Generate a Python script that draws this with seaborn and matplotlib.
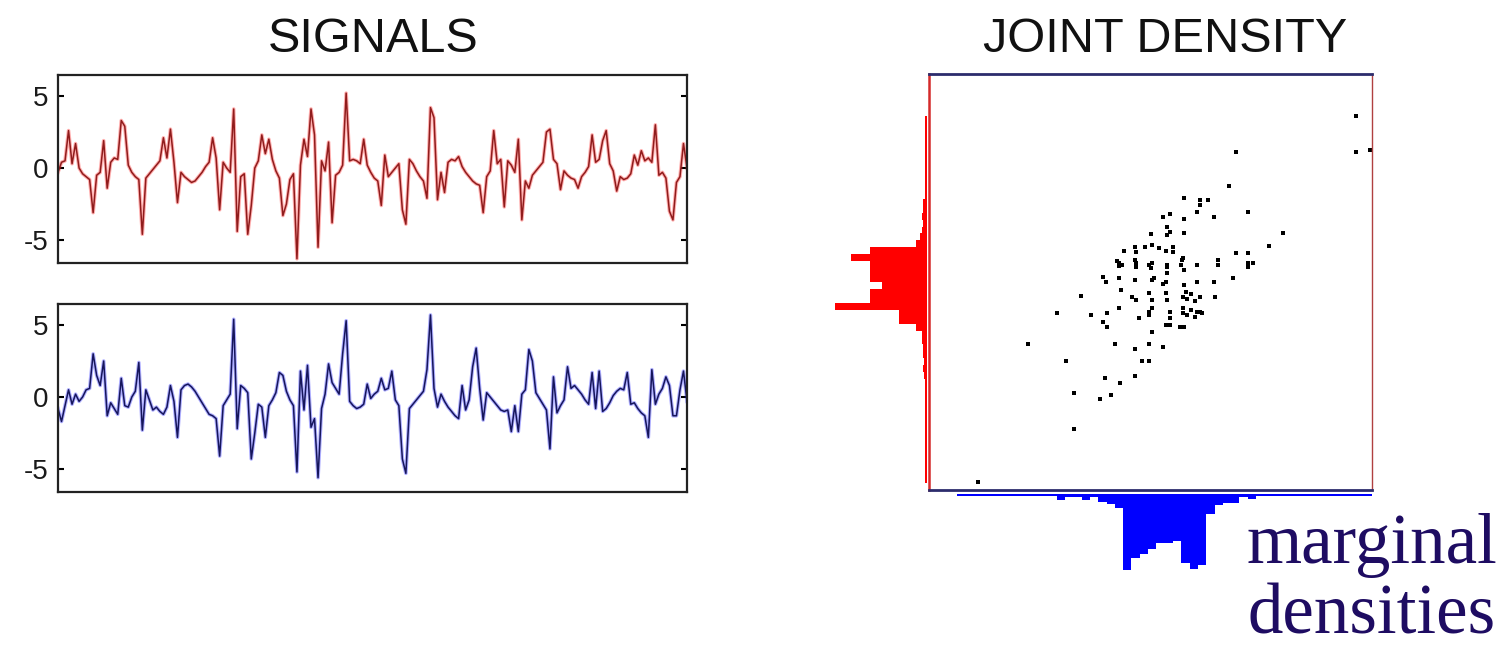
import numpy as np
import pandas as pd
import matplotlib
matplotlib.use("Agg")
import matplotlib.pyplot as plt
import seaborn as sns

# ---------------- data ----------------
signal_red = [
    -0.3, 0.4, 0.5, 2.6, 0.3, 1.7, 0.0, -0.4, -0.6, -0.8,
    -3.1, -0.5, -0.3, 1.9, -1.4, 0.4, 0.7, 0.6, 3.3, 2.9,
    0.2, -0.3, -0.6, -0.8, -4.6, -0.7, -0.4, -0.1, 0.2, 0.5,
    2.1, 0.7, 2.7, 0.4, -2.4, -0.3, -0.6, -0.8, -1.0, -0.9,
    -0.6, -0.3, 0.1, 0.4, 2.1, 0.7, -2.9, 0.4, 0.0, -0.3,
    4.1, -4.4, -0.6, -0.4, -4.6, -2.6, 0.0, 0.5, 2.3, 1.0,
    2.0, 0.6, -0.2, -0.7, -3.3, -2.5, -0.8, -0.4, -6.3, 0.2,
    2.0, 0.8, 4.1, 2.3, -5.5, 0.5, -0.2, 1.8, -3.8, -0.5,
    -0.3, 0.2, 5.2, 0.5, 0.6, 0.5, 0.3, 2.0, 0.2, -0.3,
    -0.7, -0.9, -2.6, 0.9, -0.6, -0.3, 0.0, 0.3, -2.9, -3.9,
    0.6, 0.3, -0.2, -0.6, -0.9, -2.1, 4.2, 3.5, -2.2, -0.3,
    -1.7, 0.4, 0.6, 0.5, 0.8, 0.1, -0.3, -0.6, -0.9, -1.1,
    -1.2, -3.1, -0.6, -0.2, 2.6, 0.3, 0.6, -2.7, 0.5, 0.2,
    -0.3, 2.0, -3.6, -0.9, -1.4, -0.5, -0.2, 0.1, 0.4, 2.5,
    2.7, 0.6, 0.3, -1.5, -0.2, -0.5, -0.7, -0.8, -1.4, -0.6,
    -0.3, 0.1, 2.3, 0.4, 0.6, 1.9, 2.6, 0.3, -0.2, -1.6,
    -0.6, -0.8, -0.7, -0.4, 0.9, 0.2, 1.2, 0.5, 0.7, 0.4,
    3.0, -0.5, -0.3, -0.7, -3.0, -3.6, -1.0, -0.6, 1.7, 0.0,
]

signal_blue = [
    -0.8, -1.7, -0.6, 0.5, -0.5, 0.2, -0.3, 0.0, 0.5, 0.6,
    3.0, 1.5, 0.8, 2.5, -1.3, -0.4, -0.8, -1.2, 1.3, -0.6,
    -0.7, 0.0, 0.4, 2.4, -2.3, 0.5, -0.2, -0.9, -0.7, -1.0,
    -1.2, -0.7, 0.8, -0.3, -2.8, 0.5, 0.8, 0.9, 0.7, 0.4,
    0.0, -0.4, -0.8, -1.2, -1.3, -1.5, -4.1, -0.6, -0.2, 0.2,
    5.4, -2.2, 0.8, 0.6, 0.3, -4.3, -2.5, -0.5, -0.7, -2.8,
    -0.6, -0.2, 0.3, 1.7, 1.5, 0.4, -0.2, -0.6, -5.2, 1.8,
    -0.9, 2.2, -2.1, -1.5, -5.6, -0.8, 0.2, 2.3, 1.0, 0.6,
    0.2, 3.0, 5.3, -0.3, -0.6, -0.8, -0.7, -0.5, 0.9, -0.1,
    0.2, 0.4, 1.3, 0.5, 0.6, 1.8, -0.2, -0.6, -4.3, -5.3,
    -0.8, -0.5, -0.2, 0.1, 0.4, 1.9, 5.7, 0.6, -0.7, 0.2,
    -0.3, -0.7, -1.0, -1.3, -1.5, 0.8, -0.9, -0.2, 2.1, 3.4,
    0.6, -1.6, 0.3, 0.0, -0.3, -0.6, -0.9, -1.0, -0.9, -2.4,
    -0.6, -2.4, 0.2, 0.5, 3.3, 2.5, 0.3, -0.1, -0.5, -0.9,
    -3.6, 1.4, -1.1, -0.6, -0.2, 2.1, 0.6, 0.8, 0.5, 0.2,
    -0.2, -0.5, 1.7, -0.8, 1.8, -1.0, -0.8, -0.4, 0.1, 0.4,
    0.6, 0.5, 1.7, -0.5, -0.4, -0.8, -1.1, -1.3, -2.8, 1.9,
    -0.5, 0.2, 0.6, 1.4, 0.8, -1.3, -1.3, 0.5, 1.8, -0.3,
]

scatter_x = [
    5.57, 5.57, 5.95, 2.31, 2.12, 0.92, 1.33, 1.33, 1.55, 1.25,
    2.64, 1.71, 0.35, 0.52, 0.92, 0.46, 0.54, 0.46, 0.92, 3.59,
    0.00, 3.21, 2.31, 2.64, 2.64, 2.77, 2.64, 1.82, 1.82, 2.23,
    1.71, 1.25, 0.87, 0.82, 0.92, 0.46, 0.46, -0.71, -0.43, -0.38,
    -0.16, 0.05, 0.24, 0.43, 0.60, 0.60, -0.84, -0.90, -0.78, -0.84,
    -0.43, -0.38, -0.40, -0.03, 0.03, 0.00, 0.46, 0.84, -1.30, -1.20,
    -0.84, -0.43, 0.03, 0.43, 0.10, 0.35, 0.92, 1.25, -1.88, -0.79,
    -0.49, -0.38, -0.03, 0.05, 0.43, 0.46, 0.87, 1.33, 1.74, 1.00,
    1.10, 1.20, 0.95, -0.84, 0.05, 0.87, -0.03, -0.03, 0.52, 0.52,
    0.87, 1.25, 1.33, 1.00, 1.10, 1.20, 1.40, 0.92, 0.79, 0.52,
    0.43, -2.53, -1.60, -1.17, -1.30, -1.17, -0.30, 0.05, -3.32, -0.95,
    -0.43, -0.05, 0.33, -2.28, -0.24, -0.05, -1.22, -0.82, -0.43, -2.07,
    -1.36, -1.06, -2.07, -4.67,
]
scatter_y = [
    4.78, 3.75, 3.80, 3.75, 2.77, 2.42, 2.36, 2.22, 2.36, 2.02,
    2.02, 1.87, 1.87, 1.96, 1.82, 1.59, 1.44, 1.35, 1.41, 1.41,
    1.38, 1.04, 0.84, 0.84, 0.55, 0.55, 0.43, 0.63, 0.49, 0.12,
    0.00, 0.49, 0.69, 0.49, 0.35, 0.49, 0.26, 0.89, 1.01, 0.86,
    1.01, 1.07, 0.98, 0.89, 1.01, 0.86, 0.55, 0.60, 0.50, 0.45,
    0.63, 0.43, 0.55, 0.49, 0.55, 0.40, 0.43, 0.63, 0.14, 0.00,
    0.12, 0.06, 0.06, 0.00, 0.12, -0.05, -0.09, 0.00, -0.40, -0.23,
    -0.43, -0.52, -0.32, -0.52, -0.32, -0.52, -0.43, -0.43, -0.43, -0.50,
    -0.35, -0.55, -0.30, -0.75, -0.75, -0.75, -0.86, -0.95, -0.86, -1.04,
    -0.89, -0.86, -0.86, -0.95, -0.80, -1.00, -0.90, -1.30, -1.30, -1.24,
    -1.24, -0.89, -0.95, -0.89, -1.15, -1.30, -1.04, -1.44, -1.79, -1.79,
    -1.93, -1.79, -1.87, -2.28, -2.28, -2.28, -2.77, -2.91, -2.71, -3.20,
    -3.37, -3.26, -4.24, -5.76,
]

# marginal of the red signal (vertical axis), bins of 0.2 starting at -5.8
red_hist_start = -5.8
red_hist_width = 0.2
red_hist_counts = [
    2, 2, 2, 2, 2, 2, 2, 2, 2, 2, 2, 2, 2, 2, 2,
    3, 4, 3, 4, 4,
    5, 5,
    11, 28, 28, 92, 57, 57, 45, 57, 57, 57, 76, 57, 11, 7,
    5, 4, 5,
    4, 4,
    2, 2, 2, 2, 2, 2, 2, 2, 2, 2, 2, 2,
]

# marginal of the blue signal (horizontal axis), bins of 0.225 starting at -5.24
blue_hist_start = -5.24
blue_hist_width = 0.225
blue_hist_counts = [
    2, 2, 2, 2, 2, 2, 2, 2, 2, 2, 2,
    2, 6, 3, 3, 6, 3, 8, 10, 14,
    76, 64, 60, 55, 49, 49, 47, 69, 75, 71,
    20, 11, 9, 9, 3, 5,
    2, 2, 2, 2, 2, 2, 2, 2, 2, 2, 2, 2, 2, 2,
]

y_ticks = [-5, 0, 5]
y_tick_labels = ["-5", "0", "5"]
title_left = "SIGNALS"
title_right = "JOINT DENSITY"
note_lines = ["marginal", "densities"]

# ---------------- figure ----------------
W, H = 1508, 645
fig = plt.figure(figsize=(W / 100, H / 100), dpi=100)
fig.patch.set_facecolor("white")

def fx(px):
    return px / W

def fy(py):
    return 1 - py / H

def add_ax(left, top, right, bottom):
    return fig.add_axes([fx(left), fy(bottom), fx(right) - fx(left), (bottom - top) / H])

ax_top = add_ax(58, 75, 687, 262.5)
ax_bot = add_ax(58, 304, 687, 491.5)
ax_joint = add_ax(929, 74, 1372, 490)
ax_red = add_ax(827, 74, 927, 490)
ax_blue = add_ax(929, 494, 1372, 574)

df = pd.DataFrame({
    "t": np.arange(len(signal_red)),
    "red": signal_red,
    "blue": signal_blue,
})

for ax, col, glow, core in [
    (ax_top, "red", "#ff1c1c", "#901c1c"),
    (ax_bot, "blue", "#1c1cff", "#16165c"),
]:
    sns.lineplot(data=df, x="t", y=col, ax=ax, color=glow, linewidth=2.6, alpha=0.35)
    sns.lineplot(data=df, x="t", y=col, ax=ax, color=core, linewidth=1.1)
    ax.set_xlim(0, len(signal_red) - 1)
    ax.set_ylim(-6.56, 6.46)
    ax.set_xticks([])
    ax.set_yticks(y_ticks)
    ax.set_yticklabels(y_tick_labels, fontsize=20, family="Liberation Sans", color="#1a1a1a")
    ax.tick_params(axis="y", direction="in", length=4, width=1.5, left=True, right=True, pad=7)
    ax.set_xlabel("")
    ax.set_ylabel("")
    for s in ax.spines.values():
        s.set_linewidth(1.6)
        s.set_color("#222222")

# joint scatter
sns.scatterplot(x=scatter_x, y=scatter_y, ax=ax_joint, color="black", s=9,
                marker="s", linewidth=0)
ax_joint.set_xlim(-6, 6)
ax_joint.set_ylim(-6, 6)
ax_joint.set_xticks([])
ax_joint.set_yticks([])
ax_joint.spines["top"].set_color("#2c2c6c")
ax_joint.spines["bottom"].set_color("#2c2c6c")
ax_joint.spines["left"].set_color("#d42a2a")
ax_joint.spines["right"].set_color("#b04040")
ax_joint.spines["top"].set_linewidth(2.0)
ax_joint.spines["bottom"].set_linewidth(2.0)
ax_joint.spines["left"].set_linewidth(1.8)
ax_joint.spines["right"].set_linewidth(1.0)

# red marginal (left, growing leftwards)
n_red = len(red_hist_counts)
red_df = pd.DataFrame({
    "value": red_hist_start + red_hist_width * (np.arange(n_red) + 0.5),
    "count": red_hist_counts,
})
sns.histplot(data=red_df, y="value", weights="count", binwidth=red_hist_width,
             binrange=(red_hist_start, red_hist_start + red_hist_width * n_red),
             ax=ax_red, color="#ff0000", alpha=1, linewidth=0)
ax_red.set_xlim(100, 0)
ax_red.set_ylim(-6, 6)
ax_red.axis("off")

# blue marginal (bottom, growing downwards)
n_blue = len(blue_hist_counts)
blue_df = pd.DataFrame({
    "value": blue_hist_start + blue_hist_width * (np.arange(n_blue) + 0.5),
    "count": blue_hist_counts,
})
sns.histplot(data=blue_df, x="value", weights="count", binwidth=blue_hist_width,
             binrange=(blue_hist_start, blue_hist_start + blue_hist_width * n_blue),
             ax=ax_blue, color="#0000ff", alpha=1, linewidth=0)
ax_blue.set_xlim(-6, 6)
ax_blue.set_ylim(80, 0)
ax_blue.axis("off")

# titles
fig.text(fx(373), fy(52), title_left, ha="center", va="baseline", fontsize=35,
         family="Liberation Sans", color="#111111")
fig.text(fx(1165), fy(52), title_right, ha="center", va="baseline", fontsize=35,
         family="Liberation Sans", color="#111111")

# annotation
fig.text(fx(1246), fy(563), note_lines[0], ha="left", va="baseline", fontsize=51,
         family="Liberation Serif", color="#1e0c62")
fig.text(fx(1248), fy(633), note_lines[1], ha="left", va="baseline", fontsize=51,
         family="Liberation Serif", color="#1e0c62")

fig.savefig("out.png", dpi=100, facecolor="white")
